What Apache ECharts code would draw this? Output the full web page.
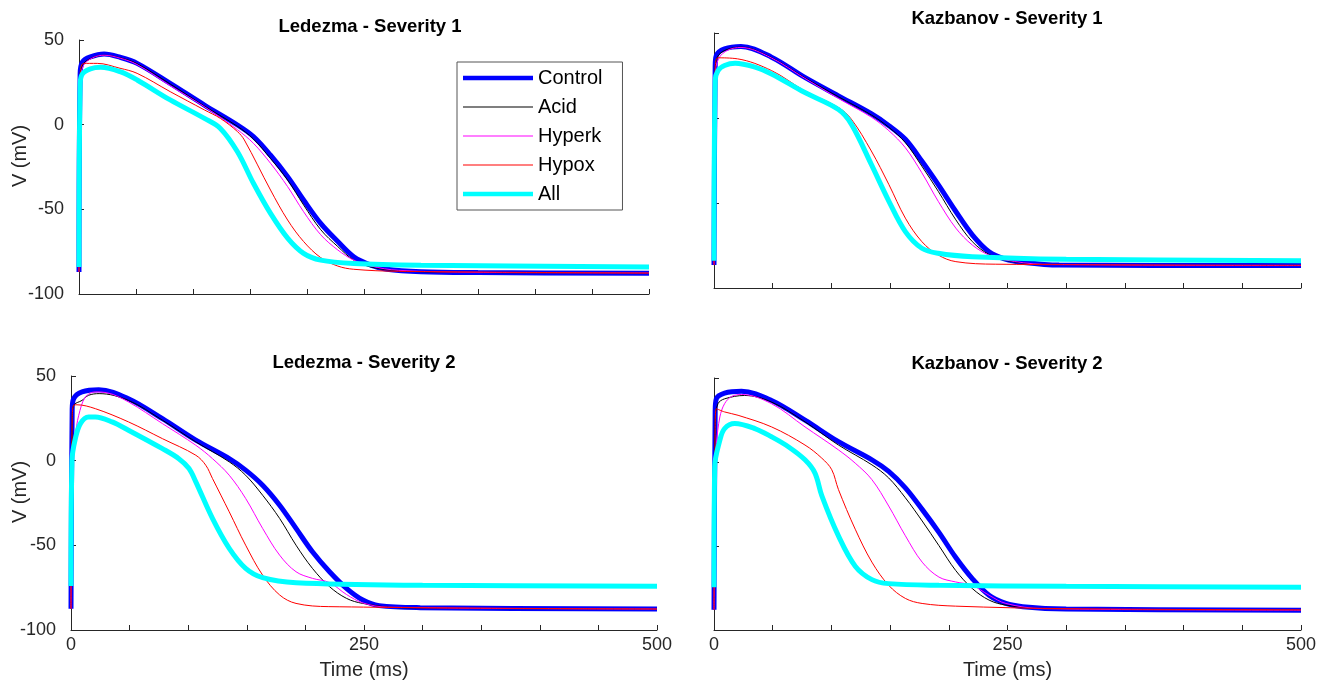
<!DOCTYPE html>
<html>
<head>
<meta charset="utf-8">
<script src="https://cdn.jsdelivr.net/npm/echarts@6/dist/echarts.min.js"></script>
<style>
html, body { margin: 0; padding: 0; background: #fff; }
#chart { width: 1328px; height: 681px; }
</style>
</head>
<body>
<div id="chart"></div>
<script>
// names of the five conditions
var seriesNames = ['Control', 'Acid', 'Hyperk', 'Hypox', 'All'];
var panelTitles = ['Ledezma - Severity 1', 'Kazbanov - Severity 1', 'Ledezma - Severity 2', 'Kazbanov - Severity 2'];
var xTickLabels = [0, 250, 500];

// Ledezma - Severity 1 : [time ms, V mV]
var ledS1Control = [[0,-87],[1,30],[3,37],[10,40],[22,41.7],[36,39.8],[51,36.2],[80,24.4],[110,11.6],[139,-0.2],[153,-7],[168,-18],[183,-30.7],[197,-44.5],[212,-58.3],[227,-69],[241,-78],[256,-82.9],[270,-85.4],[300,-86.8],[350,-87.3],[500,-87.8]];
var ledS1Acid = [[0,-87],[1,28],[3,35],[10,39],[22,41],[36,39.5],[51,36],[80,24],[110,11],[139,-1],[153,-8.5],[168,-20],[183,-32.7],[197,-47.4],[212,-62],[227,-72],[241,-80],[256,-84],[280,-86.3],[350,-87.3],[500,-87.8]];
var ledS1Hyperk = [[0,-87],[1,25],[4,35],[12,39.5],[22,41],[36,39.3],[51,35.5],[80,23],[110,10.6],[139,-3],[153,-11],[168,-22.8],[183,-36.6],[197,-51.4],[212,-65],[227,-74],[241,-80],[256,-83.5],[280,-86],[350,-87.2],[500,-87.6]];
var ledS1Hypox = [[0,-87],[1,28],[4,36.2],[16,36.2],[36,33.3],[51,30.3],[80,19.5],[110,8.7],[124,3.7],[139,-4.1],[145,-9],[168,-38.6],[183,-56.3],[197,-69],[212,-78.5],[227,-83.5],[241,-85.4],[280,-86.6],[500,-87.6]];
var ledS1All = [[0,-84],[1,24],[3,30],[10,33],[19,33.9],[36,31.3],[51,26.4],[80,14.6],[110,3.7],[124,-2.2],[139,-16],[153,-34.6],[168,-52.4],[183,-67],[197,-76],[212,-80],[241,-82],[300,-83],[500,-84]];

// Kazbanov - Severity 1
var kazS1Control = [[0,-86.5],[1,30],[2,36.8],[9,40.7],[23,42.1],[49,35.8],[77,24],[106,13],[134,2.5],[149,-4.5],[163,-12.5],[177,-25.3],[191,-39.2],[206,-55],[220,-68.7],[234,-78.5],[248,-83],[263,-84.9],[294,-86.5],[500,-86.8]];
var kazS1Acid = [[0,-86.5],[1,28],[3,36],[10,40],[23,41.7],[49,35.5],[77,23.8],[106,12.5],[134,1.8],[149,-5.5],[163,-14.5],[177,-28.3],[191,-43.1],[206,-59.9],[220,-72.7],[234,-80.2],[250,-84],[280,-86],[500,-86.8]];
var kazS1Hyperk = [[0,-86.5],[1,25],[4,35],[12,40],[23,41.5],[49,35.3],[77,23.5],[106,11.5],[134,0.5],[149,-7.5],[163,-17.5],[177,-32.2],[191,-49],[206,-64.8],[220,-74.7],[234,-80.6],[248,-83.5],[280,-86],[500,-86.8]];
var kazS1Hypox = [[0,-86.5],[1,28],[3.4,35.4],[20,34.8],[49,27.9],[77,16.1],[106,6.2],[117,-0.7],[134,-19.4],[149,-39.2],[163,-58.9],[177,-72.7],[191,-80.6],[206,-84.5],[240,-86],[500,-86.6]];
var kazS1All = [[0,-84],[1,22],[3.4,27.9],[9,30.9],[18,32.2],[35,29.9],[49,25.9],[77,15.1],[106,5],[117,-3.6],[134,-27.3],[149,-49],[163,-66.8],[177,-76.6],[191,-79.6],[220,-81.6],[300,-83.1],[500,-84]];

// Ledezma - Severity 2
var ledS2Control = [[0,-87.5],[1,30],[2.3,36.6],[9.4,40.6],[23.7,41.9],[49,36.6],[78,24.8],[106.5,12.1],[135,1.2],[149,-5.6],[163.5,-14.5],[178,-26.3],[192,-40],[206,-53.8],[220.6,-65.6],[235,-75.4],[249,-82.3],[263,-85.6],[298,-86.8],[500,-87.6]];
var ledS2Acid = [[0,-87.5],[1,25],[2.3,32.7],[9.4,35.6],[15,38.6],[24,39.6],[49,35.6],[78,23.9],[106.5,11.1],[135,-0.7],[149,-8.6],[163.5,-20.4],[178,-34.1],[192,-49.9],[206,-63.6],[220.6,-74.4],[235,-81.3],[249,-84.3],[280,-86.8],[500,-87.6]];
var ledS2Hyperk = [[0,-87.5],[1,0],[3.7,15],[6.6,26.8],[12.3,37.6],[20.8,40.6],[30,40.2],[49,34.7],[78,21.9],[106.5,9.1],[120.7,1.2],[135,-8.6],[149,-22.3],[163.5,-40],[178,-55.8],[192,-65.6],[206,-69.5],[220.6,-72],[235,-79],[249,-84],[270,-86.5],[500,-87.6]];
var ledS2Hypox = [[0,-87.5],[1,25],[2.3,32.7],[5,33],[20.8,30.7],[49,22.9],[78,13],[106.5,3.2],[115,-2.7],[120.7,-10.5],[135,-30.2],[149,-49.9],[163.5,-67.6],[178,-79.3],[192,-84.3],[220,-86.2],[500,-87.6]];
var ledS2All = [[0,-74],[0.8,0],[3.7,13],[8,21.9],[15,25.8],[20.8,25.8],[35,22.9],[49,18],[78,7.1],[92,1.2],[100.7,-4.6],[106.5,-12.5],[120.7,-34.1],[135,-51.8],[149,-63.6],[163.5,-69.1],[192,-72.1],[300,-73.6],[500,-74.1]];

// Kazbanov - Severity 2
var kazS2Control = [[0,-88],[1,30],[2,37.6],[9,41],[23.4,42.1],[49,36.6],[77.5,24.9],[106,12.1],[134.5,1.3],[148.8,-5.6],[163,-15.4],[177.3,-28.2],[191.6,-41.9],[205.8,-56.7],[220,-69.4],[234.3,-79.3],[248.6,-84.2],[263,-86.1],[300,-87.5],[500,-88.2]];
var kazS2Acid = [[0,-88],[1,25],[3.4,34.7],[9,37.6],[26,39.6],[49,35.7],[77.5,23.9],[106,10.1],[134.5,-1.7],[148.8,-9.5],[163,-21.3],[177.3,-35.1],[191.6,-49.8],[205.8,-64.5],[220,-75.3],[234.3,-82.2],[248.6,-85.2],[280,-87.3],[500,-88.2]];
var kazS2Hyperk = [[0,-88],[1,0],[2,11],[5,26.8],[9,34.7],[15,39],[23.4,40.2],[49,34.7],[77.5,20.9],[106,7.2],[120.3,-0.7],[134.5,-10.5],[148.8,-26.2],[163,-43.9],[177.3,-59.6],[191.6,-68.5],[205.8,-71.4],[220,-73.4],[234.3,-79.3],[248.6,-84.2],[280,-87.3],[500,-88.2]];
var kazS2Hypox = [[0,-88],[1,20],[2,31.7],[9,29.8],[20.5,27.8],[49,20.9],[77.5,10.1],[91.8,2.3],[100.3,-4.6],[106,-16.4],[120.3,-40],[134.5,-59.6],[148.8,-73.4],[163,-81.2],[177.3,-84.2],[205.8,-85.8],[300,-87.3],[500,-88]];
var kazS2All = [[0,-74.5],[0.6,-2.7],[5,13],[9,19.9],[17.7,22.9],[34.8,19.9],[49,15],[63.3,9.1],[77.5,1.3],[86,-6.6],[91.8,-20],[106,-44],[120.3,-62],[134.5,-70],[148.8,-72.4],[191.6,-73.4],[300,-74],[500,-74.5]];

var panelData = [
    [ledS1Control, ledS1Acid, ledS1Hyperk, ledS1Hypox, ledS1All],
    [kazS1Control, kazS1Acid, kazS1Hyperk, kazS1Hypox, kazS1All],
    [ledS2Control, ledS2Acid, ledS2Hyperk, ledS2Hypox, ledS2All],
    [kazS2Control, kazS2Acid, kazS2Hyperk, kazS2Hypox, kazS2All]
];

var lineColors = ['#0000ff', '#000000', '#ff00ff', '#ff0000', '#00ffff'];
var lineWidths = [5, 1, 1, 1, 5];
var axisColor = '#262626';
var fontName = '"Liberation Sans", Arial, Helvetica, sans-serif';

// panel boxes (MATLAB subplot positions)
var grids = [
    { left: 79, top: 40, width: 570, height: 254 },
    { left: 714, top: 33, width: 587, height: 255 },
    { left: 71, top: 376, width: 586, height: 254 },
    { left: 714, top: 378, width: 587, height: 254 }
];
var titlePos = [[370, 17], [1007, 9], [364, 353], [1007, 354]];

var myChart = echarts.init(document.getElementById('chart'));

var xAxes = [], yAxes = [], series = [], titles = [];
function each(arr, fn) { for (var i = 0; i < arr.length; i++) fn(i, arr[i]); }

each(grids, function (p) {
    var bottomRow = p >= 2;
    var leftCol = p % 2 === 0;
    titles.push({
        text: panelTitles[p],
        left: titlePos[p][0],
        top: titlePos[p][1],
        textAlign: 'center',
        padding: 0,
        textStyle: { fontFamily: fontName, fontSize: 18.5, fontWeight: 'bold', color: '#000' }
    });
    xAxes.push({
        type: 'value', gridIndex: p, min: 0, max: 500, interval: 50,
        name: bottomRow ? 'Time (ms)' : '',
        nameLocation: 'middle', nameGap: 30,
        nameMoveOverlap: false,
        nameTextStyle: { fontFamily: fontName, fontSize: 20, color: axisColor },
        axisLine: { onZero: false, lineStyle: { color: axisColor, width: 1 } },
        axisTick: { inside: true, length: 5, lineStyle: { color: axisColor } },
        axisLabel: {
            show: bottomRow, margin: 6, fontFamily: fontName, fontSize: 18, color: axisColor,
            formatter: function (v) { return xTickLabels.indexOf(v) >= 0 ? String(v) : ''; }
        },
        splitLine: { show: false }
    });
    yAxes.push({
        type: 'value', gridIndex: p, min: -100, max: 50, interval: 50,
        name: leftCol ? 'V (mV)' : '',
        nameLocation: 'middle', nameRotate: 90, nameGap: p === 0 ? 49 : 41,
        nameMoveOverlap: false,
        nameTextStyle: { fontFamily: fontName, fontSize: 20, color: axisColor, padding: [0, 0, 0, 22] },
        axisLine: { onZero: false, lineStyle: { color: axisColor, width: 1 } },
        axisTick: { inside: true, length: 5, lineStyle: { color: axisColor } },
        axisLabel: { show: leftCol, margin: 15, fontFamily: fontName, fontSize: 18, color: axisColor },
        splitLine: { show: false }
    });
    each(seriesNames, function (s, name) {
        series.push({
            name: name,
            type: 'line',
            xAxisIndex: p,
            yAxisIndex: p,
            data: panelData[p][s],
            symbol: 'none',
            smooth: 0.35,
            clip: false,
            lineStyle: { color: lineColors[s], width: lineWidths[s] },
            itemStyle: { color: lineColors[s] }
        });
    });
});

// legend icons: plain line samples, thick for Control / All
var legendData = [];
each(seriesNames, function (s, name) {
    var h = lineWidths[s] > 1 ? 4.5 : 1;
    legendData.push({
        name: name,
        icon: 'path://M0,0h70v' + h + 'h-70z',
        itemStyle: { color: lineColors[s], borderWidth: 0 }
    });
});

var option = {
    animation: false,
    backgroundColor: '#fff',
    title: titles,
    grid: grids,
    xAxis: xAxes,
    yAxis: yAxes,
    legend: {
        data: legendData,
        orient: 'vertical',
        left: 457, top: 62,
        padding: [6, 20, 6, 6],
        itemWidth: 70, itemHeight: 20, itemGap: 9,
        symbolKeepAspect: true,
        backgroundColor: '#fff',
        borderColor: '#555', borderWidth: 1, borderRadius: 0,
        selectedMode: false,
        textStyle: { fontFamily: fontName, fontSize: 20, color: '#000', lineHeight: 20 }
    },
    series: series
};
myChart.setOption(option);
</script>
</body>
</html>
